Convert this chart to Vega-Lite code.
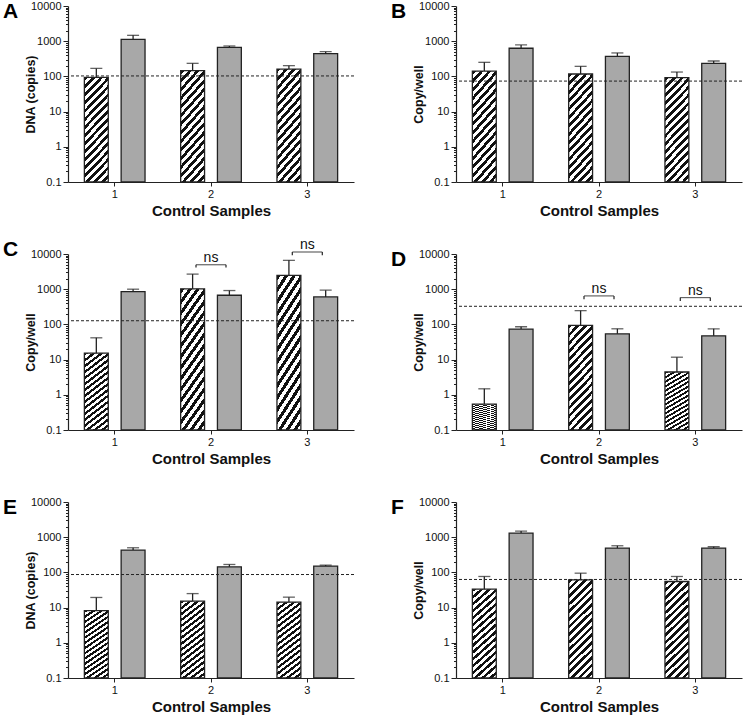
{
  "$schema": "https://vega.github.io/schema/vega-lite/v6.json",
  "padding": {"left": 3, "top": 0, "right": 5, "bottom": 2},
  "background": "white",
  "datasets": {
    "bars": [
      {"panel": "A", "sample": "1", "type": "hatched", "value": 94, "err": 169},
      {"panel": "A", "sample": "1", "type": "gray", "value": 1130, "err": 1468},
      {"panel": "A", "sample": "2", "type": "hatched", "value": 146, "err": 235},
      {"panel": "A", "sample": "2", "type": "gray", "value": 670, "err": 731},
      {"panel": "A", "sample": "3", "type": "hatched", "value": 162, "err": 202},
      {"panel": "A", "sample": "3", "type": "gray", "value": 443, "err": 504},
      {"panel": "B", "sample": "1", "type": "hatched", "value": 142, "err": 251},
      {"panel": "B", "sample": "1", "type": "gray", "value": 631, "err": 785},
      {"panel": "B", "sample": "2", "type": "hatched", "value": 117, "err": 193},
      {"panel": "B", "sample": "2", "type": "gray", "value": 373, "err": 464},
      {"panel": "B", "sample": "3", "type": "hatched", "value": 92, "err": 133},
      {"panel": "B", "sample": "3", "type": "gray", "value": 235, "err": 274},
      {"panel": "C", "sample": "1", "type": "hatched", "value": 15.2, "err": 41.6},
      {"panel": "C", "sample": "1", "type": "gray", "value": 858, "err": 1000},
      {"panel": "C", "sample": "2", "type": "hatched", "value": 1022, "err": 2683},
      {"panel": "C", "sample": "2", "type": "gray", "value": 674, "err": 916},
      {"panel": "C", "sample": "3", "type": "hatched", "value": 2455, "err": 6593},
      {"panel": "C", "sample": "3", "type": "gray", "value": 604, "err": 936},
      {"panel": "D", "sample": "1", "type": "hatched", "value": 0.54, "err": 1.48},
      {"panel": "D", "sample": "1", "type": "gray", "value": 73.6, "err": 85.8},
      {"panel": "D", "sample": "2", "type": "hatched", "value": 93.6, "err": 246},
      {"panel": "D", "sample": "2", "type": "gray", "value": 54, "err": 75},
      {"panel": "D", "sample": "3", "type": "hatched", "value": 4.45, "err": 11.7},
      {"panel": "D", "sample": "3", "type": "gray", "value": 47.5, "err": 75},
      {"panel": "E", "sample": "1", "type": "hatched", "value": 8.2, "err": 19.4},
      {"panel": "E", "sample": "1", "type": "gray", "value": 430, "err": 501},
      {"panel": "E", "sample": "2", "type": "hatched", "value": 15.2, "err": 25},
      {"panel": "E", "sample": "2", "type": "gray", "value": 144, "err": 168},
      {"panel": "E", "sample": "3", "type": "hatched", "value": 14.3, "err": 19.8},
      {"panel": "E", "sample": "3", "type": "gray", "value": 151, "err": 161},
      {"panel": "F", "sample": "1", "type": "hatched", "value": 33.4, "err": 76.6},
      {"panel": "F", "sample": "1", "type": "gray", "value": 1312, "err": 1495},
      {"panel": "F", "sample": "2", "type": "hatched", "value": 61.5, "err": 95},
      {"panel": "F", "sample": "2", "type": "gray", "value": 491, "err": 571},
      {"panel": "F", "sample": "3", "type": "hatched", "value": 55.2, "err": 76.6},
      {"panel": "F", "sample": "3", "type": "gray", "value": 491, "err": 536}
    ],
    "lines": [
      {"panel": "A", "threshold": 103},
      {"panel": "B", "threshold": 73.6},
      {"panel": "C", "threshold": 127},
      {"panel": "D", "threshold": 327},
      {"panel": "E", "threshold": 87},
      {"panel": "F", "threshold": 63}
    ],
    "brackets": [
      {"panel": "C", "sample": "2", "top": 4955, "low": 4157, "label": "ns"},
      {"panel": "C", "sample": "3", "top": 11400, "low": 9160, "label": "ns"},
      {"panel": "D", "sample": "2", "top": 645, "low": 518, "label": "ns"},
      {"panel": "D", "sample": "3", "top": 578, "low": 464, "label": "ns"}
    ]
  },
  "columns": 2,
  "bounds": "flush",
  "spacing": {"row": 72, "column": 102},
  "concat": [
    {
      "width": 286, "height": 176, "title": "A",
      "layer": [
        {"data": {"name": "bars"}, "transform": [{"filter": "datum.panel==='A' && datum.type==='hatched'"}],
         "mark": {"type": "bar", "stroke": "#222", "strokeWidth": 1.3},
         "encoding": {
           "x": {"field": "sample", "type": "nominal", "scale": {"paddingInner": 0.37, "paddingOuter": 0.17}, "axis": {"title": "Control Samples", "labelAngle": 0}},
           "xOffset": {"field": "type", "type": "nominal", "scale": {"domain": ["hatched", "gray"], "paddingInner": 0.35, "paddingOuter": 0}},
           "y": {"field": "value", "type": "quantitative", "scale": {"type": "log", "domain": [0.1, 10000], "nice": false},
                 "axis": {"title": "DNA (copies)", "values": [0.1,0.2,0.3,0.4,0.5,0.6,0.7,0.8,0.9,1,2,3,4,5,6,7,8,9,10,20,30,40,50,60,70,80,90,100,200,300,400,500,600,700,800,900,1000,2000,3000,4000,5000,6000,7000,8000,9000,10000],
                          "labelExpr": "datum.value==0.1?'0.1':datum.value==1?'1':datum.value==10?'10':datum.value==100?'100':datum.value==1000?'1000':datum.value==10000?'10000':''",
                          "tickSize": {"condition": {"test": "datum.value==0.1||datum.value==1||datum.value==10||datum.value==100||datum.value==1000||datum.value==10000", "value": 5}, "value": 2.5}}},
           "y2": {"datum": 0.1}
         }},
        {"data": {"name": "bars"}, "transform": [{"filter": "datum.panel==='A' && datum.type==='gray'"}],
         "mark": {"type": "bar", "fill": "#a8a8a8", "stroke": "#222", "strokeWidth": 1.3},
         "encoding": {"x": {"field": "sample", "type": "nominal"}, "xOffset": {"field": "type", "type": "nominal", "scale": {"domain": ["hatched", "gray"]}}, "y": {"field": "value", "type": "quantitative"}, "y2": {"datum": 0.1}}},
        {"data": {"name": "bars"}, "transform": [{"filter": "datum.panel==='A'"}],
         "mark": {"type": "rule", "color": "#222", "strokeWidth": 1.3},
         "encoding": {"x": {"field": "sample", "type": "nominal"}, "xOffset": {"field": "type", "type": "nominal"}, "y": {"field": "value", "type": "quantitative"}, "y2": {"field": "err"}}},
        {"data": {"name": "bars"}, "transform": [{"filter": "datum.panel==='A'"}],
         "mark": {"type": "tick", "color": "#222", "thickness": 1.3, "size": 12, "orient": "horizontal"},
         "encoding": {"x": {"field": "sample", "type": "nominal"}, "xOffset": {"field": "type", "type": "nominal"}, "y": {"field": "err", "type": "quantitative"}}},
        {"data": {"name": "lines"}, "transform": [{"filter": "datum.panel==='A'"}],
         "mark": {"type": "rule", "color": "#222", "strokeDash": [3, 2], "strokeWidth": 1},
         "encoding": {"y": {"field": "threshold", "type": "quantitative"}}}
      ]
    },
    {
      "width": 286, "height": 176, "title": "B",
      "layer": [
        {"data": {"name": "bars"}, "transform": [{"filter": "datum.panel==='B' && datum.type==='hatched'"}],
         "mark": {"type": "bar", "stroke": "#222", "strokeWidth": 1.3},
         "encoding": {
           "x": {"field": "sample", "type": "nominal", "scale": {"paddingInner": 0.37, "paddingOuter": 0.17}, "axis": {"title": "Control Samples", "labelAngle": 0}},
           "xOffset": {"field": "type", "type": "nominal", "scale": {"domain": ["hatched", "gray"], "paddingInner": 0.35, "paddingOuter": 0}},
           "y": {"field": "value", "type": "quantitative", "scale": {"type": "log", "domain": [0.1, 10000], "nice": false},
                 "axis": {"title": "Copy/well", "values": [0.1,0.2,0.3,0.4,0.5,0.6,0.7,0.8,0.9,1,2,3,4,5,6,7,8,9,10,20,30,40,50,60,70,80,90,100,200,300,400,500,600,700,800,900,1000,2000,3000,4000,5000,6000,7000,8000,9000,10000],
                          "labelExpr": "datum.value==0.1?'0.1':datum.value==1?'1':datum.value==10?'10':datum.value==100?'100':datum.value==1000?'1000':datum.value==10000?'10000':''",
                          "tickSize": {"condition": {"test": "datum.value==0.1||datum.value==1||datum.value==10||datum.value==100||datum.value==1000||datum.value==10000", "value": 5}, "value": 2.5}}},
           "y2": {"datum": 0.1}
         }},
        {"data": {"name": "bars"}, "transform": [{"filter": "datum.panel==='B' && datum.type==='gray'"}],
         "mark": {"type": "bar", "fill": "#a8a8a8", "stroke": "#222", "strokeWidth": 1.3},
         "encoding": {"x": {"field": "sample", "type": "nominal"}, "xOffset": {"field": "type", "type": "nominal", "scale": {"domain": ["hatched", "gray"]}}, "y": {"field": "value", "type": "quantitative"}, "y2": {"datum": 0.1}}},
        {"data": {"name": "bars"}, "transform": [{"filter": "datum.panel==='B'"}],
         "mark": {"type": "rule", "color": "#222", "strokeWidth": 1.3},
         "encoding": {"x": {"field": "sample", "type": "nominal"}, "xOffset": {"field": "type", "type": "nominal"}, "y": {"field": "value", "type": "quantitative"}, "y2": {"field": "err"}}},
        {"data": {"name": "bars"}, "transform": [{"filter": "datum.panel==='B'"}],
         "mark": {"type": "tick", "color": "#222", "thickness": 1.3, "size": 12, "orient": "horizontal"},
         "encoding": {"x": {"field": "sample", "type": "nominal"}, "xOffset": {"field": "type", "type": "nominal"}, "y": {"field": "err", "type": "quantitative"}}},
        {"data": {"name": "lines"}, "transform": [{"filter": "datum.panel==='B'"}],
         "mark": {"type": "rule", "color": "#222", "strokeDash": [3, 2], "strokeWidth": 1},
         "encoding": {"y": {"field": "threshold", "type": "quantitative"}}}
      ]
    },
    {
      "width": 286, "height": 176, "title": "C",
      "layer": [
        {"data": {"name": "bars"}, "transform": [{"filter": "datum.panel==='C' && datum.type==='hatched'"}],
         "mark": {"type": "bar", "stroke": "#222", "strokeWidth": 1.3},
         "encoding": {
           "x": {"field": "sample", "type": "nominal", "scale": {"paddingInner": 0.37, "paddingOuter": 0.17}, "axis": {"title": "Control Samples", "labelAngle": 0}},
           "xOffset": {"field": "type", "type": "nominal", "scale": {"domain": ["hatched", "gray"], "paddingInner": 0.35, "paddingOuter": 0}},
           "y": {"field": "value", "type": "quantitative", "scale": {"type": "log", "domain": [0.1, 10000], "nice": false},
                 "axis": {"title": "Copy/well", "values": [0.1,0.2,0.3,0.4,0.5,0.6,0.7,0.8,0.9,1,2,3,4,5,6,7,8,9,10,20,30,40,50,60,70,80,90,100,200,300,400,500,600,700,800,900,1000,2000,3000,4000,5000,6000,7000,8000,9000,10000],
                          "labelExpr": "datum.value==0.1?'0.1':datum.value==1?'1':datum.value==10?'10':datum.value==100?'100':datum.value==1000?'1000':datum.value==10000?'10000':''",
                          "tickSize": {"condition": {"test": "datum.value==0.1||datum.value==1||datum.value==10||datum.value==100||datum.value==1000||datum.value==10000", "value": 5}, "value": 2.5}}},
           "y2": {"datum": 0.1}
         }},
        {"data": {"name": "bars"}, "transform": [{"filter": "datum.panel==='C' && datum.type==='gray'"}],
         "mark": {"type": "bar", "fill": "#a8a8a8", "stroke": "#222", "strokeWidth": 1.3},
         "encoding": {"x": {"field": "sample", "type": "nominal"}, "xOffset": {"field": "type", "type": "nominal", "scale": {"domain": ["hatched", "gray"]}}, "y": {"field": "value", "type": "quantitative"}, "y2": {"datum": 0.1}}},
        {"data": {"name": "bars"}, "transform": [{"filter": "datum.panel==='C'"}],
         "mark": {"type": "rule", "color": "#222", "strokeWidth": 1.3},
         "encoding": {"x": {"field": "sample", "type": "nominal"}, "xOffset": {"field": "type", "type": "nominal"}, "y": {"field": "value", "type": "quantitative"}, "y2": {"field": "err"}}},
        {"data": {"name": "bars"}, "transform": [{"filter": "datum.panel==='C'"}],
         "mark": {"type": "tick", "color": "#222", "thickness": 1.3, "size": 12, "orient": "horizontal"},
         "encoding": {"x": {"field": "sample", "type": "nominal"}, "xOffset": {"field": "type", "type": "nominal"}, "y": {"field": "err", "type": "quantitative"}}},
        {"data": {"name": "lines"}, "transform": [{"filter": "datum.panel==='C'"}],
         "mark": {"type": "rule", "color": "#222", "strokeDash": [3, 2], "strokeWidth": 1},
         "encoding": {"y": {"field": "threshold", "type": "quantitative"}}},
        {"data": {"name": "brackets"}, "transform": [{"filter": "datum.panel==='C'"}],
         "mark": {"type": "tick", "color": "#222", "thickness": 1.2, "size": 30, "orient": "horizontal"},
         "encoding": {"x": {"field": "sample", "type": "nominal"}, "y": {"field": "top", "type": "quantitative"}}},
        {"data": {"name": "brackets"}, "transform": [{"filter": "datum.panel==='C'"}],
         "mark": {"type": "rule", "color": "#222", "strokeWidth": 1.2, "xOffset": -15},
         "encoding": {"x": {"field": "sample", "type": "nominal"}, "y": {"field": "low", "type": "quantitative"}, "y2": {"field": "top"}}},
        {"data": {"name": "brackets"}, "transform": [{"filter": "datum.panel==='C'"}],
         "mark": {"type": "rule", "color": "#222", "strokeWidth": 1.2, "xOffset": 15},
         "encoding": {"x": {"field": "sample", "type": "nominal"}, "y": {"field": "low", "type": "quantitative"}, "y2": {"field": "top"}}},
        {"data": {"name": "brackets"}, "transform": [{"filter": "datum.panel==='C'"}],
         "mark": {"type": "text", "fontSize": 14, "baseline": "alphabetic", "dy": -3, "color": "#111"},
         "encoding": {"x": {"field": "sample", "type": "nominal"}, "y": {"field": "top", "type": "quantitative"}, "text": {"field": "label"}}}
      ]
    },
    {
      "width": 286, "height": 176, "title": "D",
      "layer": [
        {"data": {"name": "bars"}, "transform": [{"filter": "datum.panel==='D' && datum.type==='hatched'"}],
         "mark": {"type": "bar", "stroke": "#222", "strokeWidth": 1.3},
         "encoding": {
           "x": {"field": "sample", "type": "nominal", "scale": {"paddingInner": 0.37, "paddingOuter": 0.17}, "axis": {"title": "Control Samples", "labelAngle": 0}},
           "xOffset": {"field": "type", "type": "nominal", "scale": {"domain": ["hatched", "gray"], "paddingInner": 0.35, "paddingOuter": 0}},
           "y": {"field": "value", "type": "quantitative", "scale": {"type": "log", "domain": [0.1, 10000], "nice": false},
                 "axis": {"title": "Copy/well", "values": [0.1,0.2,0.3,0.4,0.5,0.6,0.7,0.8,0.9,1,2,3,4,5,6,7,8,9,10,20,30,40,50,60,70,80,90,100,200,300,400,500,600,700,800,900,1000,2000,3000,4000,5000,6000,7000,8000,9000,10000],
                          "labelExpr": "datum.value==0.1?'0.1':datum.value==1?'1':datum.value==10?'10':datum.value==100?'100':datum.value==1000?'1000':datum.value==10000?'10000':''",
                          "tickSize": {"condition": {"test": "datum.value==0.1||datum.value==1||datum.value==10||datum.value==100||datum.value==1000||datum.value==10000", "value": 5}, "value": 2.5}}},
           "y2": {"datum": 0.1}
         }},
        {"data": {"name": "bars"}, "transform": [{"filter": "datum.panel==='D' && datum.type==='gray'"}],
         "mark": {"type": "bar", "fill": "#a8a8a8", "stroke": "#222", "strokeWidth": 1.3},
         "encoding": {"x": {"field": "sample", "type": "nominal"}, "xOffset": {"field": "type", "type": "nominal", "scale": {"domain": ["hatched", "gray"]}}, "y": {"field": "value", "type": "quantitative"}, "y2": {"datum": 0.1}}},
        {"data": {"name": "bars"}, "transform": [{"filter": "datum.panel==='D'"}],
         "mark": {"type": "rule", "color": "#222", "strokeWidth": 1.3},
         "encoding": {"x": {"field": "sample", "type": "nominal"}, "xOffset": {"field": "type", "type": "nominal"}, "y": {"field": "value", "type": "quantitative"}, "y2": {"field": "err"}}},
        {"data": {"name": "bars"}, "transform": [{"filter": "datum.panel==='D'"}],
         "mark": {"type": "tick", "color": "#222", "thickness": 1.3, "size": 12, "orient": "horizontal"},
         "encoding": {"x": {"field": "sample", "type": "nominal"}, "xOffset": {"field": "type", "type": "nominal"}, "y": {"field": "err", "type": "quantitative"}}},
        {"data": {"name": "lines"}, "transform": [{"filter": "datum.panel==='D'"}],
         "mark": {"type": "rule", "color": "#222", "strokeDash": [3, 2], "strokeWidth": 1},
         "encoding": {"y": {"field": "threshold", "type": "quantitative"}}},
        {"data": {"name": "brackets"}, "transform": [{"filter": "datum.panel==='D'"}],
         "mark": {"type": "tick", "color": "#222", "thickness": 1.2, "size": 30, "orient": "horizontal"},
         "encoding": {"x": {"field": "sample", "type": "nominal"}, "y": {"field": "top", "type": "quantitative"}}},
        {"data": {"name": "brackets"}, "transform": [{"filter": "datum.panel==='D'"}],
         "mark": {"type": "rule", "color": "#222", "strokeWidth": 1.2, "xOffset": -15},
         "encoding": {"x": {"field": "sample", "type": "nominal"}, "y": {"field": "low", "type": "quantitative"}, "y2": {"field": "top"}}},
        {"data": {"name": "brackets"}, "transform": [{"filter": "datum.panel==='D'"}],
         "mark": {"type": "rule", "color": "#222", "strokeWidth": 1.2, "xOffset": 15},
         "encoding": {"x": {"field": "sample", "type": "nominal"}, "y": {"field": "low", "type": "quantitative"}, "y2": {"field": "top"}}},
        {"data": {"name": "brackets"}, "transform": [{"filter": "datum.panel==='D'"}],
         "mark": {"type": "text", "fontSize": 14, "baseline": "alphabetic", "dy": -3, "color": "#111"},
         "encoding": {"x": {"field": "sample", "type": "nominal"}, "y": {"field": "top", "type": "quantitative"}, "text": {"field": "label"}}}
      ]
    },
    {
      "width": 286, "height": 176, "title": "E",
      "layer": [
        {"data": {"name": "bars"}, "transform": [{"filter": "datum.panel==='E' && datum.type==='hatched'"}],
         "mark": {"type": "bar", "stroke": "#222", "strokeWidth": 1.3},
         "encoding": {
           "x": {"field": "sample", "type": "nominal", "scale": {"paddingInner": 0.37, "paddingOuter": 0.17}, "axis": {"title": "Control Samples", "labelAngle": 0}},
           "xOffset": {"field": "type", "type": "nominal", "scale": {"domain": ["hatched", "gray"], "paddingInner": 0.35, "paddingOuter": 0}},
           "y": {"field": "value", "type": "quantitative", "scale": {"type": "log", "domain": [0.1, 10000], "nice": false},
                 "axis": {"title": "DNA (copies)", "values": [0.1,0.2,0.3,0.4,0.5,0.6,0.7,0.8,0.9,1,2,3,4,5,6,7,8,9,10,20,30,40,50,60,70,80,90,100,200,300,400,500,600,700,800,900,1000,2000,3000,4000,5000,6000,7000,8000,9000,10000],
                          "labelExpr": "datum.value==0.1?'0.1':datum.value==1?'1':datum.value==10?'10':datum.value==100?'100':datum.value==1000?'1000':datum.value==10000?'10000':''",
                          "tickSize": {"condition": {"test": "datum.value==0.1||datum.value==1||datum.value==10||datum.value==100||datum.value==1000||datum.value==10000", "value": 5}, "value": 2.5}}},
           "y2": {"datum": 0.1}
         }},
        {"data": {"name": "bars"}, "transform": [{"filter": "datum.panel==='E' && datum.type==='gray'"}],
         "mark": {"type": "bar", "fill": "#a8a8a8", "stroke": "#222", "strokeWidth": 1.3},
         "encoding": {"x": {"field": "sample", "type": "nominal"}, "xOffset": {"field": "type", "type": "nominal", "scale": {"domain": ["hatched", "gray"]}}, "y": {"field": "value", "type": "quantitative"}, "y2": {"datum": 0.1}}},
        {"data": {"name": "bars"}, "transform": [{"filter": "datum.panel==='E'"}],
         "mark": {"type": "rule", "color": "#222", "strokeWidth": 1.3},
         "encoding": {"x": {"field": "sample", "type": "nominal"}, "xOffset": {"field": "type", "type": "nominal"}, "y": {"field": "value", "type": "quantitative"}, "y2": {"field": "err"}}},
        {"data": {"name": "bars"}, "transform": [{"filter": "datum.panel==='E'"}],
         "mark": {"type": "tick", "color": "#222", "thickness": 1.3, "size": 12, "orient": "horizontal"},
         "encoding": {"x": {"field": "sample", "type": "nominal"}, "xOffset": {"field": "type", "type": "nominal"}, "y": {"field": "err", "type": "quantitative"}}},
        {"data": {"name": "lines"}, "transform": [{"filter": "datum.panel==='E'"}],
         "mark": {"type": "rule", "color": "#222", "strokeDash": [3, 2], "strokeWidth": 1},
         "encoding": {"y": {"field": "threshold", "type": "quantitative"}}}
      ]
    },
    {
      "width": 286, "height": 176, "title": "F",
      "layer": [
        {"data": {"name": "bars"}, "transform": [{"filter": "datum.panel==='F' && datum.type==='hatched'"}],
         "mark": {"type": "bar", "stroke": "#222", "strokeWidth": 1.3},
         "encoding": {
           "x": {"field": "sample", "type": "nominal", "scale": {"paddingInner": 0.37, "paddingOuter": 0.17}, "axis": {"title": "Control Samples", "labelAngle": 0}},
           "xOffset": {"field": "type", "type": "nominal", "scale": {"domain": ["hatched", "gray"], "paddingInner": 0.35, "paddingOuter": 0}},
           "y": {"field": "value", "type": "quantitative", "scale": {"type": "log", "domain": [0.1, 10000], "nice": false},
                 "axis": {"title": "Copy/well", "values": [0.1,0.2,0.3,0.4,0.5,0.6,0.7,0.8,0.9,1,2,3,4,5,6,7,8,9,10,20,30,40,50,60,70,80,90,100,200,300,400,500,600,700,800,900,1000,2000,3000,4000,5000,6000,7000,8000,9000,10000],
                          "labelExpr": "datum.value==0.1?'0.1':datum.value==1?'1':datum.value==10?'10':datum.value==100?'100':datum.value==1000?'1000':datum.value==10000?'10000':''",
                          "tickSize": {"condition": {"test": "datum.value==0.1||datum.value==1||datum.value==10||datum.value==100||datum.value==1000||datum.value==10000", "value": 5}, "value": 2.5}}},
           "y2": {"datum": 0.1}
         }},
        {"data": {"name": "bars"}, "transform": [{"filter": "datum.panel==='F' && datum.type==='gray'"}],
         "mark": {"type": "bar", "fill": "#a8a8a8", "stroke": "#222", "strokeWidth": 1.3},
         "encoding": {"x": {"field": "sample", "type": "nominal"}, "xOffset": {"field": "type", "type": "nominal", "scale": {"domain": ["hatched", "gray"]}}, "y": {"field": "value", "type": "quantitative"}, "y2": {"datum": 0.1}}},
        {"data": {"name": "bars"}, "transform": [{"filter": "datum.panel==='F'"}],
         "mark": {"type": "rule", "color": "#222", "strokeWidth": 1.3},
         "encoding": {"x": {"field": "sample", "type": "nominal"}, "xOffset": {"field": "type", "type": "nominal"}, "y": {"field": "value", "type": "quantitative"}, "y2": {"field": "err"}}},
        {"data": {"name": "bars"}, "transform": [{"filter": "datum.panel==='F'"}],
         "mark": {"type": "tick", "color": "#222", "thickness": 1.3, "size": 12, "orient": "horizontal"},
         "encoding": {"x": {"field": "sample", "type": "nominal"}, "xOffset": {"field": "type", "type": "nominal"}, "y": {"field": "err", "type": "quantitative"}}},
        {"data": {"name": "lines"}, "transform": [{"filter": "datum.panel==='F'"}],
         "mark": {"type": "rule", "color": "#222", "strokeDash": [3, 2], "strokeWidth": 1},
         "encoding": {"y": {"field": "threshold", "type": "quantitative"}}}
      ]
    }
  ],
  "config": {
    "font": "Liberation Sans",
    "view": {"stroke": null},
    "bar": {"fill": {"gradient": "linear", "x1": 0, "y1": 0, "x2": 0.281, "y2": 1.172, "stops": [
      {"offset": 0, "color": "#111"}, {"offset": 0.03, "color": "#111"}, {"offset": 0.03, "color": "#fff"}, {"offset": 0.0625, "color": "#fff"},
      {"offset": 0.0625, "color": "#111"}, {"offset": 0.0925, "color": "#111"}, {"offset": 0.0925, "color": "#fff"}, {"offset": 0.125, "color": "#fff"},
      {"offset": 0.125, "color": "#111"}, {"offset": 0.155, "color": "#111"}, {"offset": 0.155, "color": "#fff"}, {"offset": 0.1875, "color": "#fff"},
      {"offset": 0.1875, "color": "#111"}, {"offset": 0.2175, "color": "#111"}, {"offset": 0.2175, "color": "#fff"}, {"offset": 0.25, "color": "#fff"},
      {"offset": 0.25, "color": "#111"}, {"offset": 0.28, "color": "#111"}, {"offset": 0.28, "color": "#fff"}, {"offset": 0.3125, "color": "#fff"},
      {"offset": 0.3125, "color": "#111"}, {"offset": 0.3425, "color": "#111"}, {"offset": 0.3425, "color": "#fff"}, {"offset": 0.375, "color": "#fff"},
      {"offset": 0.375, "color": "#111"}, {"offset": 0.405, "color": "#111"}, {"offset": 0.405, "color": "#fff"}, {"offset": 0.4375, "color": "#fff"},
      {"offset": 0.4375, "color": "#111"}, {"offset": 0.4675, "color": "#111"}, {"offset": 0.4675, "color": "#fff"}, {"offset": 0.5, "color": "#fff"},
      {"offset": 0.5, "color": "#111"}, {"offset": 0.53, "color": "#111"}, {"offset": 0.53, "color": "#fff"}, {"offset": 0.5625, "color": "#fff"},
      {"offset": 0.5625, "color": "#111"}, {"offset": 0.5925, "color": "#111"}, {"offset": 0.5925, "color": "#fff"}, {"offset": 0.625, "color": "#fff"},
      {"offset": 0.625, "color": "#111"}, {"offset": 0.655, "color": "#111"}, {"offset": 0.655, "color": "#fff"}, {"offset": 0.6875, "color": "#fff"},
      {"offset": 0.6875, "color": "#111"}, {"offset": 0.7175, "color": "#111"}, {"offset": 0.7175, "color": "#fff"}, {"offset": 0.75, "color": "#fff"},
      {"offset": 0.75, "color": "#111"}, {"offset": 0.78, "color": "#111"}, {"offset": 0.78, "color": "#fff"}, {"offset": 0.8125, "color": "#fff"},
      {"offset": 0.8125, "color": "#111"}, {"offset": 0.8425, "color": "#111"}, {"offset": 0.8425, "color": "#fff"}, {"offset": 0.875, "color": "#fff"},
      {"offset": 0.875, "color": "#111"}, {"offset": 0.905, "color": "#111"}, {"offset": 0.905, "color": "#fff"}, {"offset": 0.9375, "color": "#fff"},
      {"offset": 0.9375, "color": "#111"}, {"offset": 0.9675, "color": "#111"}, {"offset": 0.9675, "color": "#fff"}, {"offset": 1, "color": "#fff"}
    ]}},
    "axis": {"grid": false, "domainColor": "#222", "tickColor": "#222", "labelColor": "#111", "titleColor": "#111",
             "labelFont": "Liberation Sans", "titleFont": "Liberation Sans", "labelFontSize": 11, "titleFontWeight": "bold", "domainWidth": 1.2, "tickWidth": 1},
    "axisX": {"tickSize": 4, "labelPadding": 2, "titleFontSize": 15, "titlePadding": 4},
    "axisY": {"titleFontSize": 12.5, "titlePadding": -7, "labelPadding": 2},
    "title": {"anchor": "start", "frame": "group", "fontSize": 21, "fontWeight": "bold", "dx": -65, "dy": 26, "offset": 0, "color": "#000", "font": "Liberation Sans"}
  }
}
